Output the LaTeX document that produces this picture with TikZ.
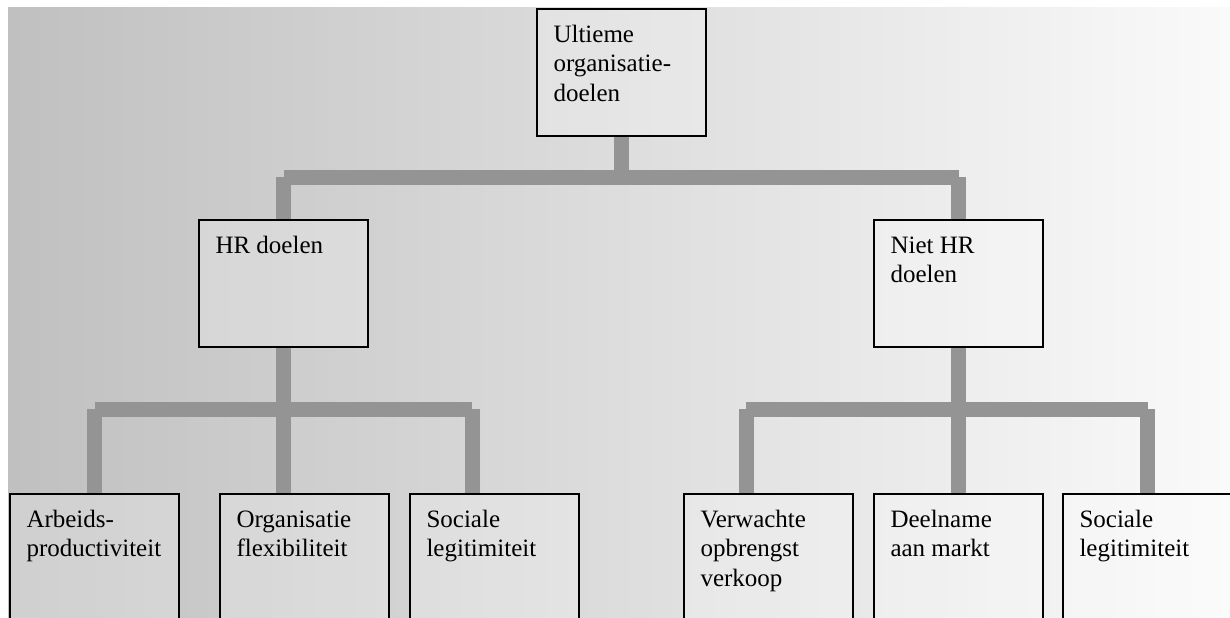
\documentclass[tikz,border=0pt]{standalone}
\usepackage{fontspec}
\setmainfont{Liberation Serif}
\usetikzlibrary{calc}

\definecolor{bgleft}{RGB}{192,192,192}
\definecolor{bgright}{RGB}{250,250,250}
\definecolor{linkgray}{RGB}{148,148,148}

\newcommand{\goaltext}[2][51pt]{\parbox[t][#1][t]{68pt}{\raggedright\strut #2}}

\tikzset{
  goal/.style={draw, line width=1pt, fill=white, fill opacity=0.25, text opacity=1,
    anchor=north west, inner xsep=8.25pt, inner ysep=6.2pt,
    font=\fontsize{12.5pt}{14.75pt}\selectfont},
  link/.style={draw=linkgray, line width=7.5pt, line cap=butt}
}

\begin{document}
\begin{tikzpicture}[x=0.5pt, y=-0.5pt]

  \useasboundingbox (0,0) rectangle (1230,617);
  \clip (0,0) rectangle (1230,617);
  \shade[left color=bgleft, right color=bgright] (8,7) rectangle (1230,617);

  % top level
  \node[goal] (top) at (536,8) {\goaltext{Ultieme\\organisatie-\\doelen}};

  % second level
  \node[goal] (hr) at (198,219) {\goaltext{HR doelen}};
  \node[goal] (niet) at (873,219) {\goaltext{Niet HR\\doelen}};

  % bottom level
  \node[goal] (arb) at (9,493) {\goaltext[60pt]{Arbeids-\\productiviteit}};
  \node[goal] (flex) at (219,493) {\goaltext[60pt]{Organisatie\\flexibiliteit}};
  \node[goal] (soc) at (409,493) {\goaltext[60pt]{Sociale\\legitimiteit}};
  \node[goal] (verw) at (683,493) {\goaltext[60pt]{Verwachte\\opbrengst\\verkoop}};
  \node[goal] (markt) at (873,493) {\goaltext[60pt]{Deelname\\aan markt}};
  \node[goal] (soc2) at (1062,493) {\goaltext[60pt]{Sociale\\legitimiteit}};

  \coordinate (topbar) at (0,177);
  \coordinate (lowbar) at (0,409);
  \coordinate (socin) at ([xshift=31.5pt]soc.north west);
  \coordinate (verwin) at ([xshift=31.5pt]verw.north west);

  % connectors
  \draw[link] (top.south) -- (top.south |- topbar);
  \draw[link] (hr.north |- topbar) -- (niet.north |- topbar);
  \draw[link] (hr.north |- topbar) -- (hr.north);
  \draw[link] (niet.north |- topbar) -- (niet.north);

  \draw[link] (hr.south) -- (hr.south |- flex.north);
  \draw[link] (arb.north |- lowbar) -- (socin |- lowbar);
  \draw[link] (arb.north |- lowbar) -- (arb.north);
  \draw[link] (socin |- lowbar) -- (socin);

  \draw[link] (niet.south) -- (markt.north);
  \draw[link] (verwin |- lowbar) -- (soc2.north |- lowbar);
  \draw[link] (verwin |- lowbar) -- (verwin);
  \draw[link] (soc2.north |- lowbar) -- (soc2.north);

\end{tikzpicture}
\end{document}
